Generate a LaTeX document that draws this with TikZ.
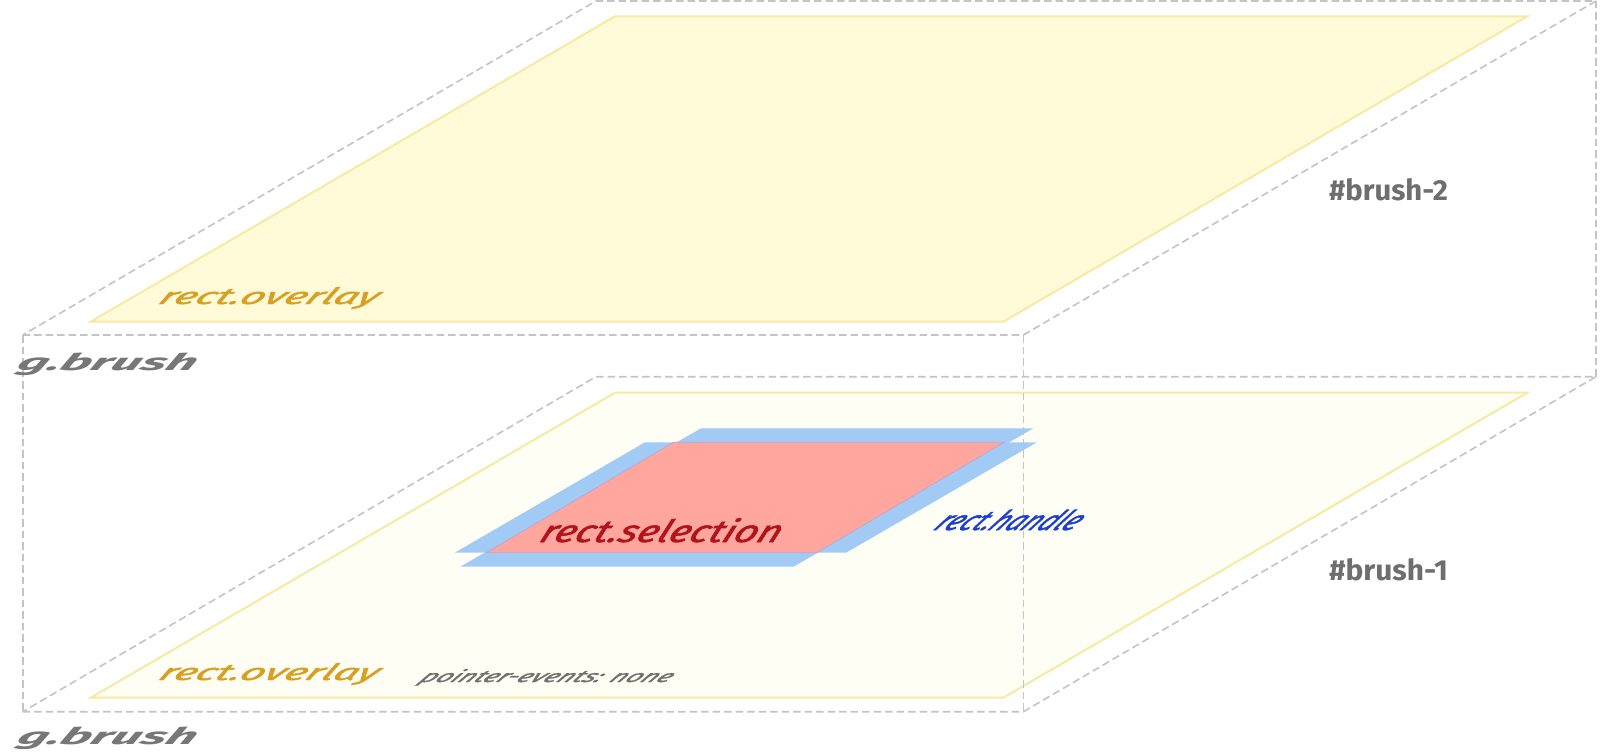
\documentclass[tikz,border=0pt]{standalone}
\usepackage{fontspec}
\setmainfont{Fira Sans}
\newfontfamily\planefont[FakeBold=1.8]{Fira Sans}
\usepackage{graphicx}
\definecolor{overlaytxt}{HTML}{D8A023}
\definecolor{gbrushtxt}{HTML}{777777}
\definecolor{ptrtxt}{HTML}{707070}
\definecolor{seltxt}{HTML}{B3141B}
\definecolor{handletxt}{HTML}{1D3FCC}
\definecolor{idtxt}{HTML}{6E6E6E}
\definecolor{dashgray}{HTML}{C4C4C4}
\definecolor{ystroke}{HTML}{F8E9A3}
\definecolor{yfillA}{HTML}{FFFAD7}
\definecolor{yfillB}{HTML}{FFFEF4}
\definecolor{handleblue}{HTML}{A1CBF5}
\definecolor{selred}{HTML}{FFA69F}
\definecolor{selborder}{HTML}{C4A3CF}
\tikzset{
  groupline/.style={draw=dashgray, line width=1.6pt, dash pattern=on 7.5pt off 4pt},
  overlayplane/.style={draw=ystroke, line width=2pt, line join=miter},
  handleshape/.style={fill=handleblue},
  selshape/.style={fill=selred, draw=selborder, line width=0.8pt},
  lbl/.style={anchor=base west, inner sep=0pt, outer sep=0pt}
}
\begin{document}
\begin{tikzpicture}[x=1pt,y=-1pt]
\useasboundingbox (0,0) rectangle (1600,754);
\fill[white] (0,0) rectangle (1600,754);
% group corners
\coordinate (ftl) at (22.7,335);
\coordinate (ftr) at (1023.3,335);
\coordinate (btl) at (596,1);
\coordinate (btr) at (1596,1);
\coordinate (fbl) at (22.7,711.7);
\coordinate (fbr) at (1023.3,711.7);
\coordinate (bbl) at (596,376.7);
\coordinate (bbr) at (1596,376.7);
% overlay planes
\coordinate (oa1) at (90.7,321.7);
\coordinate (oa2) at (1003.3,321.7);
\coordinate (oa3) at (1527.3,16.3);
\coordinate (oa4) at (615,16.3);
\coordinate (ob1) at (90.7,697.7);
\coordinate (ob2) at (1003.3,697.7);
\coordinate (ob3) at (1527.3,392.7);
\coordinate (ob4) at (615,392.7);
\path[overlayplane, fill=yfillA] (oa1) -- (oa2) -- (oa3) -- (oa4) -- cycle;
\path[overlayplane, fill=yfillB] (ob1) -- (ob2) -- (ob3) -- (ob4) -- cycle;
% dashed group outlines
\draw[groupline] (ftl) -- (ftr) -- (btr) -- (btl) -- cycle;
\draw[groupline] (fbl) -- (fbr) -- (bbr) -- (bbl) -- cycle;
\draw[groupline] (ftl) -- (fbl);
\draw[groupline] (ftr) -- (fbr);
\draw[groupline] (btr) -- (bbr);
% handles
\coordinate (q1) at (454.7,552.7);
\coordinate (q2) at (846.1,552.7);
\coordinate (q3) at (1036.8,442.3);
\coordinate (q4) at (645,442.3);
\coordinate (p1) at (460.2,566.7);
\coordinate (p2) at (793.5,566.7);
\coordinate (p3) at (1033.4,428.3);
\coordinate (p4) at (701,428.3);
\fill[handleshape] (q1) -- (q2) -- (q3) -- (q4) -- cycle;
\fill[handleshape] (p1) -- (p2) -- (p3) -- (p4) -- cycle;
% selection
\coordinate (s1) at (486.3,552.7);
\coordinate (s2) at (816.7,552.7);
\coordinate (s3) at (1004,442.3);
\coordinate (s4) at (673.6,442.3);
\path[selshape] (s1) -- (s2) -- (s3) -- (s4) -- cycle;
% labels
\begin{scope}[shift={(157,304)}, xslant=0.62, transform shape]
\node[lbl, text=overlaytxt] (ovA) at (0,0) {\resizebox{218pt}{17pt}{\planefont\itshape rect.overlay}};
\end{scope}
\begin{scope}[shift={(157,680)}, xslant=0.62, transform shape]
\node[lbl, text=overlaytxt] (ovB) at (0,0) {\resizebox{218pt}{17pt}{\planefont\itshape rect.overlay}};
\end{scope}
\begin{scope}[shift={(15,370)}, xslant=0.55, transform shape]
\node[lbl, text=gbrushtxt] (gbA) at (0,0) {\resizebox{178pt}{17.5pt}{\bfseries\itshape g.brush}};
\end{scope}
\begin{scope}[shift={(15,744)}, xslant=0.55, transform shape]
\node[lbl, text=gbrushtxt] (gbB) at (0,0) {\resizebox{178pt}{17.5pt}{\bfseries\itshape g.brush}};
\end{scope}
\begin{scope}[shift={(418,682)}, xslant=0.95, transform shape]
\node[lbl, text=ptrtxt] (ptr) at (0,0) {\resizebox{250pt}{13pt}{\planefont\itshape pointer-events: none}};
\end{scope}
\begin{scope}[shift={(538,542)}, xslant=0.45, transform shape]
\node[lbl, text=seltxt] (seltx) at (0,0) {\resizebox{240pt}{24pt}{\planefont\itshape rect.selection}};
\end{scope}
\begin{scope}[shift={(932,530)}, xslant=0.95, transform shape]
\node[lbl, text=handletxt] (handtx) at (0,0) {\resizebox{141pt}{20.5pt}{\planefont\itshape rect.handle}};
\end{scope}
\node[lbl, text=idtxt] (idtwo) at (1329,200.5) {\resizebox{119pt}{22pt}{\bfseries \#brush-2}};
\node[lbl, text=idtxt] (idone) at (1329,580) {\resizebox{119pt}{22pt}{\bfseries \#brush-1}};
\end{tikzpicture}
\end{document}
